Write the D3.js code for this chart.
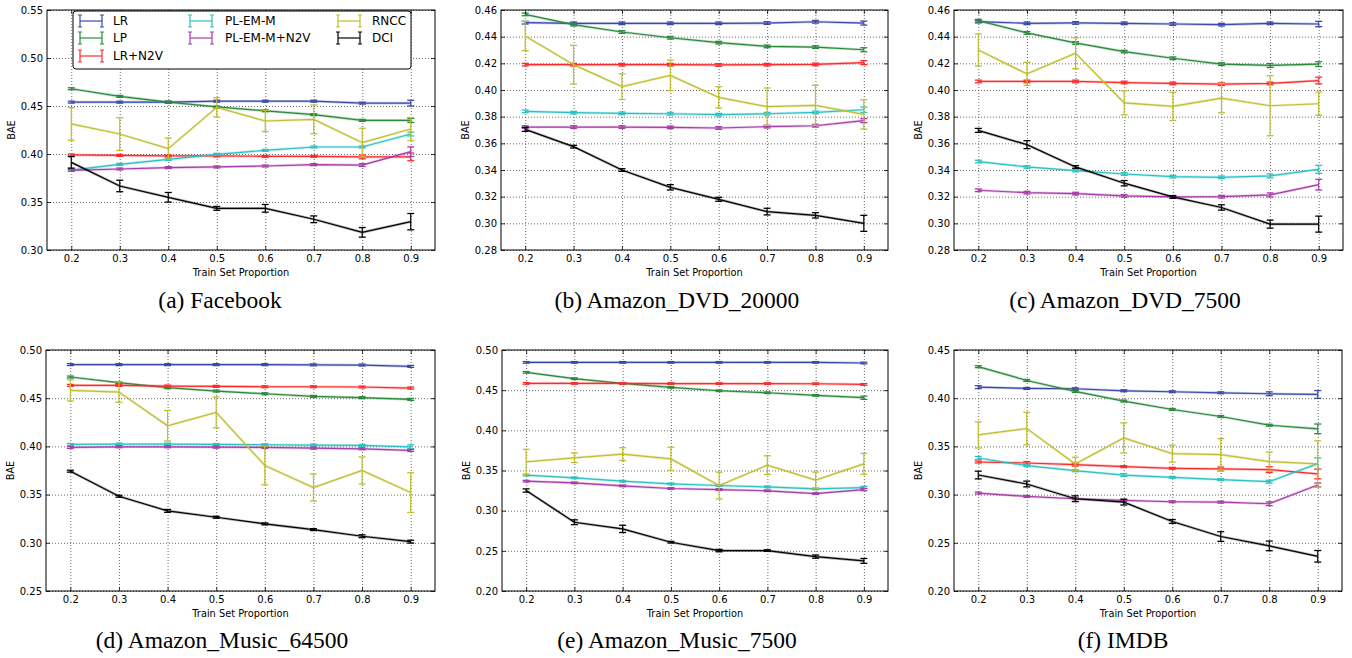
<!DOCTYPE html>
<html>
<head>
<meta charset="utf-8">
<script src="https://cdn.jsdelivr.net/npm/d3@7"></script>
<style>
  html, body { margin: 0; padding: 0; background: #fff; }
  svg { display: block; }
  .tick text { font-family: "DejaVu Sans", sans-serif; font-size: 10px; fill: #000; }
</style>
</head>
<body>
<svg id="chart" width="1352" height="658"></svg>
<script>
// ---------------- DATA ----------------
const trainProportions = [0.2, 0.3, 0.4, 0.5, 0.6, 0.7, 0.8, 0.9];
const xTickLabels = ["0.2", "0.3", "0.4", "0.5", "0.6", "0.7", "0.8", "0.9"];
const methods = ["LR", "LP", "LR+N2V", "PL-EM-M", "PL-EM-M+N2V", "RNCC", "DCI"];
const methodColors = ["#3a4aa8", "#2a8a3c", "#ff2a2a", "#2cc2c2", "#a83ca8", "#bfbf30", "#000000"];

const captions = ["(a) Facebook", "(b) Amazon_DVD_20000", "(c) Amazon_DVD_7500",
                  "(d) Amazon_Music_64500", "(e) Amazon_Music_7500", "(f) IMDB"];

const yTicksA = [0.30, 0.35, 0.40, 0.45, 0.50, 0.55];
const yTicksB = [0.28, 0.30, 0.32, 0.34, 0.36, 0.38, 0.40, 0.42, 0.44, 0.46];
const yTicksC = [0.28, 0.30, 0.32, 0.34, 0.36, 0.38, 0.40, 0.42, 0.44, 0.46];
const yTicksD = [0.25, 0.30, 0.35, 0.40, 0.45, 0.50];
const yTicksE = [0.20, 0.25, 0.30, 0.35, 0.40, 0.45, 0.50];
const yTicksF = [0.20, 0.25, 0.30, 0.35, 0.40, 0.45];

// rows follow `methods` order
const facebookMean = [
  [0.454, 0.454, 0.454, 0.455, 0.455, 0.455, 0.453, 0.453],
  [0.468, 0.460, 0.454, 0.449, 0.445, 0.441, 0.435, 0.435],
  [0.399, 0.3986, 0.398, 0.398, 0.3976, 0.3976, 0.397, 0.397],
  [0.3833, 0.3892, 0.3944, 0.3997, 0.4038, 0.4073, 0.4073, 0.4208],
  [0.383, 0.3844, 0.3858, 0.3865, 0.3875, 0.3889, 0.3885, 0.4024],
  [0.4313, 0.4208, 0.4056, 0.4486, 0.4344, 0.4361, 0.4118, 0.426],
  [0.3913, 0.3667, 0.3549, 0.3434, 0.3434, 0.332, 0.3184, 0.3295]
];
const facebookErr = [
  [0.001, 0.001, 0.001, 0.001, 0.001, 0.001, 0.001, 0.003],
  [0.001, 0.001, 0.001, 0.001, 0.001, 0.001, 0.001, 0.002],
  [0.001, 0.001, 0.001, 0.001, 0.001, 0.001, 0.002, 0.004],
  [0.001, 0.001, 0.001, 0.001, 0.001, 0.001, 0.001, 0.002],
  [0.001, 0.001, 0.001, 0.001, 0.001, 0.001, 0.0015, 0.005],
  [0.017, 0.017, 0.011, 0.010, 0.011, 0.015, 0.015, 0.012],
  [0.006, 0.006, 0.005, 0.002, 0.004, 0.0035, 0.005, 0.0085]
];

const dvd20000Mean = [
  [0.4505, 0.450, 0.450, 0.450, 0.450, 0.4502, 0.4512, 0.4502],
  [0.4567, 0.449, 0.4435, 0.4392, 0.4355, 0.4327, 0.4322, 0.4302],
  [0.419, 0.419, 0.419, 0.419, 0.4188, 0.419, 0.4192, 0.4205],
  [0.384, 0.383, 0.3825, 0.3822, 0.3815, 0.3822, 0.3832, 0.3852],
  [0.3722, 0.3722, 0.3722, 0.372, 0.3715, 0.3725, 0.3732, 0.377],
  [0.4405, 0.419, 0.4025, 0.411, 0.3945, 0.3875, 0.3885, 0.3817],
  [0.3705, 0.3575, 0.340, 0.327, 0.318, 0.3088, 0.306, 0.300]
];
const dvd20000Err = [
  [0.001, 0.001, 0.001, 0.001, 0.001, 0.001, 0.001, 0.0015],
  [0.001, 0.001, 0.001, 0.001, 0.001, 0.001, 0.001, 0.0015],
  [0.001, 0.001, 0.001, 0.001, 0.001, 0.001, 0.001, 0.0015],
  [0.001, 0.001, 0.001, 0.001, 0.001, 0.001, 0.001, 0.002],
  [0.001, 0.001, 0.001, 0.001, 0.001, 0.001, 0.001, 0.0015],
  [0.011, 0.0145, 0.0096, 0.0115, 0.008, 0.014, 0.015, 0.011],
  [0.0015, 0.001, 0.001, 0.002, 0.0015, 0.0025, 0.002, 0.006]
];

const dvd7500Mean = [
  [0.4513, 0.450, 0.4503, 0.450, 0.4495, 0.449, 0.450, 0.4495],
  [0.452, 0.4428, 0.4353, 0.4288, 0.4238, 0.4194, 0.4184, 0.4194],
  [0.4064, 0.4064, 0.4064, 0.4056, 0.4049, 0.4044, 0.4049, 0.4071],
  [0.3463, 0.3423, 0.3396, 0.337, 0.335, 0.3345, 0.3356, 0.3405],
  [0.3248, 0.323, 0.3223, 0.3206, 0.3198, 0.320, 0.3213, 0.329],
  [0.430, 0.4121, 0.4276, 0.3904, 0.3877, 0.3939, 0.3882, 0.3897],
  [0.3697, 0.359, 0.3423, 0.3301, 0.3198, 0.3119, 0.2994, 0.2994]
];
const dvd7500Err = [
  [0.001, 0.001, 0.001, 0.001, 0.001, 0.001, 0.001, 0.002],
  [0.001, 0.001, 0.001, 0.001, 0.001, 0.001, 0.0015, 0.0018],
  [0.001, 0.001, 0.001, 0.001, 0.001, 0.001, 0.001, 0.0025],
  [0.001, 0.001, 0.001, 0.001, 0.001, 0.001, 0.0015, 0.003],
  [0.001, 0.001, 0.001, 0.001, 0.001, 0.001, 0.0015, 0.004],
  [0.012, 0.0087, 0.0116, 0.009, 0.0106, 0.011, 0.0225, 0.0087],
  [0.0015, 0.003, 0.001, 0.002, 0.001, 0.002, 0.003, 0.006]
];

const music64500Mean = [
  [0.4848, 0.4848, 0.4848, 0.4848, 0.4848, 0.4846, 0.4844, 0.483],
  [0.472, 0.4661, 0.4609, 0.4574, 0.4546, 0.4519, 0.4505, 0.4488],
  [0.4633, 0.4633, 0.4626, 0.4623, 0.4619, 0.4619, 0.4616, 0.4605],
  [0.402, 0.4024, 0.4024, 0.402, 0.4017, 0.4013, 0.401, 0.3996],
  [0.3989, 0.3996, 0.3996, 0.3992, 0.3989, 0.3982, 0.3975, 0.3958],
  [0.4581, 0.4564, 0.4214, 0.4353, 0.3802, 0.3573, 0.375, 0.3521],
  [0.3743, 0.3483, 0.3331, 0.3265, 0.3196, 0.3137, 0.3068, 0.3012]
];
const music64500Err = [
  [0.001, 0.001, 0.001, 0.001, 0.001, 0.001, 0.001, 0.001],
  [0.001, 0.001, 0.001, 0.001, 0.001, 0.001, 0.001, 0.001],
  [0.001, 0.001, 0.001, 0.001, 0.001, 0.001, 0.001, 0.001],
  [0.001, 0.001, 0.001, 0.001, 0.001, 0.001, 0.001, 0.002],
  [0.001, 0.001, 0.001, 0.001, 0.001, 0.001, 0.001, 0.001],
  [0.011, 0.0106, 0.0158, 0.016, 0.020, 0.014, 0.014, 0.0206],
  [0.001, 0.001, 0.0015, 0.001, 0.001, 0.001, 0.0015, 0.0015]
];

const music7500Mean = [
  [0.4846, 0.4846, 0.4846, 0.4846, 0.4846, 0.4846, 0.4846, 0.4838],
  [0.4722, 0.4643, 0.4584, 0.4535, 0.4493, 0.4468, 0.4435, 0.4406],
  [0.4584, 0.4584, 0.4584, 0.4582, 0.4582, 0.4582, 0.458, 0.4572],
  [0.3442, 0.3409, 0.3367, 0.3334, 0.3313, 0.3296, 0.3271, 0.3288],
  [0.3367, 0.3346, 0.3309, 0.3276, 0.3263, 0.3247, 0.3213, 0.3263],
  [0.3608, 0.3658, 0.3704, 0.3645, 0.3313, 0.3567, 0.338, 0.3583],
  [0.3251, 0.2856, 0.2773, 0.2607, 0.2503, 0.2503, 0.2428, 0.2375]
];
const music7500Err = [
  [0.001, 0.001, 0.001, 0.001, 0.001, 0.001, 0.001, 0.001],
  [0.001, 0.001, 0.001, 0.001, 0.001, 0.001, 0.001, 0.002],
  [0.001, 0.001, 0.001, 0.001, 0.001, 0.001, 0.001, 0.001],
  [0.001, 0.001, 0.001, 0.001, 0.001, 0.001, 0.001, 0.0015],
  [0.001, 0.001, 0.001, 0.001, 0.001, 0.001, 0.001, 0.0015],
  [0.0156, 0.006, 0.008, 0.0145, 0.0166, 0.0116, 0.010, 0.013],
  [0.002, 0.003, 0.0045, 0.001, 0.0015, 0.001, 0.002, 0.003]
];

const imdbMean = [
  [0.4115, 0.4101, 0.4098, 0.4077, 0.4067, 0.4056, 0.4046, 0.4039],
  [0.4327, 0.4184, 0.407, 0.397, 0.3883, 0.381, 0.372, 0.3682],
  [0.3338, 0.3328, 0.3311, 0.329, 0.3273, 0.3266, 0.3259, 0.3214],
  [0.338, 0.330, 0.3248, 0.3203, 0.3179, 0.3155, 0.3134, 0.3321],
  [0.3016, 0.2981, 0.2957, 0.294, 0.2926, 0.2922, 0.2905, 0.310],
  [0.3619, 0.3685, 0.3318, 0.3588, 0.3425, 0.3415, 0.3342, 0.3318],
  [0.3203, 0.311, 0.2957, 0.2922, 0.2721, 0.2565, 0.2468, 0.236]
];
const imdbErr = [
  [0.0015, 0.001, 0.001, 0.001, 0.001, 0.001, 0.002, 0.004],
  [0.001, 0.001, 0.001, 0.001, 0.001, 0.001, 0.001, 0.005],
  [0.001, 0.0015, 0.0015, 0.001, 0.001, 0.002, 0.003, 0.005],
  [0.0015, 0.001, 0.001, 0.0015, 0.001, 0.001, 0.0015, 0.006],
  [0.001, 0.001, 0.001, 0.001, 0.001, 0.001, 0.002, 0.002],
  [0.0135, 0.0168, 0.007, 0.0156, 0.0088, 0.0165, 0.010, 0.024],
  [0.004, 0.003, 0.003, 0.003, 0.002, 0.005, 0.005, 0.006]
];

// ---------------- LAYOUT ----------------
const panels = [
  { mean: facebookMean,   err: facebookErr,   ticks: yTicksA, caption: captions[0], box: [47, 435, 10, 250],  cx: 220,  cy: 308, legend: true },
  { mean: dvd20000Mean,   err: dvd20000Err,   ticks: yTicksB, caption: captions[1], box: [501, 888, 10, 250], cx: 677,  cy: 308 },
  { mean: dvd7500Mean,    err: dvd7500Err,    ticks: yTicksC, caption: captions[2], box: [954, 1343, 10, 250], cx: 1125, cy: 308 },
  { mean: music64500Mean, err: music64500Err, ticks: yTicksD, caption: captions[3], box: [46, 435, 350, 591], cx: 222,  cy: 648 },
  { mean: music7500Mean,  err: music7500Err,  ticks: yTicksE, caption: captions[4], box: [502, 888, 350, 591], cx: 677,  cy: 648 },
  { mean: imdbMean,       err: imdbErr,       ticks: yTicksF, caption: captions[5], box: [954, 1342, 350, 591], cx: 1123, cy: 648 }
];

const svg = d3.select("#chart");
const fmt2 = d3.format(".2f");

panels.forEach(p => {
  const [x0, x1, y0, y1] = p.box;
  const w = x1 - x0, h = y1 - y0;
  const x = d3.scaleLinear().domain([0.15, 0.95]).range([0, w]);
  const y = d3.scaleLinear().domain([p.ticks[0], p.ticks[p.ticks.length - 1]]).range([h, 0]);
  const g = svg.append("g").attr("transform", `translate(${x0},${y0})`);

  // grid
  const gx = g.append("g").attr("transform", `translate(0,${h})`)
    .call(d3.axisBottom(x).tickValues(trainProportions).tickSize(-h).tickFormat(""));
  const gy = g.append("g")
    .call(d3.axisLeft(y).tickValues(p.ticks).tickSize(-w).tickFormat(""));
  [gx, gy].forEach(a => {
    a.select(".domain").remove();
    a.selectAll("line").attr("stroke", "#444").attr("stroke-width", 0.8).attr("stroke-dasharray", "1,2");
  });

  // series
  const line = d3.line().x((d, i) => x(trainProportions[i])).y(d => y(d));
  p.mean.forEach((vals, k) => {
    const col = methodColors[k];
    const s = g.append("g");
    s.append("path").datum(vals).attr("d", line).attr("fill", "none")
      .attr("stroke", col).attr("stroke-width", 2.6).attr("stroke-opacity", 0.3);
    s.append("path").datum(vals).attr("d", line).attr("fill", "none")
      .attr("stroke", col).attr("stroke-width", 1.2);
    vals.forEach((v, i) => {
      const e = p.err[k][i];
      const cx = x(trainProportions[i]);
      const ya = y(v + e), yb = y(v - e);
      s.append("line").attr("x1", cx).attr("x2", cx).attr("y1", ya).attr("y2", yb)
        .attr("stroke", col).attr("stroke-width", 1.2);
      [ya, yb].forEach(yy => s.append("line").attr("x1", cx - 3.5).attr("x2", cx + 3.5)
        .attr("y1", yy).attr("y2", yy).attr("stroke", col).attr("stroke-width", 1.3));
    });
  });

  // axes (ticks inward on all sides)
  const ab = g.append("g").attr("transform", `translate(0,${h})`)
    .call(d3.axisBottom(x).tickValues(trainProportions)
      .tickFormat((d, i) => xTickLabels[i]).tickSizeInner(-4).tickSizeOuter(0).tickPadding(5));
  const at = g.append("g")
    .call(d3.axisTop(x).tickValues(trainProportions).tickFormat("").tickSizeInner(-4).tickSizeOuter(0));
  const al = g.append("g")
    .call(d3.axisLeft(y).tickValues(p.ticks).tickFormat(fmt2).tickSizeInner(-4).tickSizeOuter(0).tickPadding(4));
  const ar = g.append("g").attr("transform", `translate(${w},0)`)
    .call(d3.axisRight(y).tickValues(p.ticks).tickFormat("").tickSizeInner(-4).tickSizeOuter(0));
  [ab, at, al, ar].forEach(a => {
    a.select(".domain").remove();
    a.attr("font-family", null).attr("font-size", null);
    a.selectAll("line").attr("stroke", "#000").attr("stroke-width", 0.8);
  });

  // frame
  g.append("rect").attr("x", 0).attr("y", 0).attr("width", w).attr("height", h)
    .attr("fill", "none").attr("stroke", "#000").attr("stroke-width", 1);

  // axis labels
  g.append("text").attr("x", w / 2).attr("y", h + 26).attr("text-anchor", "middle")
    .attr("font-family", "DejaVu Sans, sans-serif").attr("font-size", 9.8).text("Train Set Proportion");
  g.append("text").attr("transform", `translate(-32,${h / 2}) rotate(-90)`).attr("text-anchor", "middle")
    .attr("font-family", "DejaVu Sans, sans-serif").attr("font-size", 9.8).text("BAE");

  // caption
  svg.append("text").attr("x", p.cx).attr("y", p.cy).attr("text-anchor", "middle")
    .attr("font-family", "Liberation Serif, Times New Roman, serif").attr("font-size", 23.5)
    .text(p.caption);

  // legend
  if (p.legend) {
    const lg = svg.append("g");
    lg.append("rect").attr("x", 73).attr("y", 11).attr("width", 338).attr("height", 58).attr("rx", 3)
      .attr("fill", "#fff").attr("stroke", "#000").attr("stroke-width", 1);
    const colX = [80, 190, 338], textX = [113, 225, 372], rowY = [21, 38, 56];
    const slots = [[0, 0], [0, 1], [0, 2], [1, 0], [1, 1], [2, 0], [2, 1]];
    methods.forEach((m, k) => {
      const [c, r] = slots[k];
      const hx = colX[c], hy = rowY[r], col = methodColors[k];
      lg.append("line").attr("x1", hx).attr("x2", hx + 22).attr("y1", hy).attr("y2", hy)
        .attr("stroke", col).attr("stroke-width", 1.2);
      [hx, hx + 22].forEach(vx => {
        lg.append("line").attr("x1", vx).attr("x2", vx).attr("y1", hy - 6).attr("y2", hy + 6)
          .attr("stroke", col).attr("stroke-width", 1.2);
        [hy - 6, hy + 6].forEach(cy => lg.append("line").attr("x1", vx - 2).attr("x2", vx + 2)
          .attr("y1", cy).attr("y2", cy).attr("stroke", col).attr("stroke-width", 1));
      });
      lg.append("text").attr("x", textX[c]).attr("y", hy).attr("dy", "0.35em")
        .attr("font-family", "DejaVu Sans, sans-serif").attr("font-size", 12).text(m);
    });
  }
});
</script>
</body>
</html>
